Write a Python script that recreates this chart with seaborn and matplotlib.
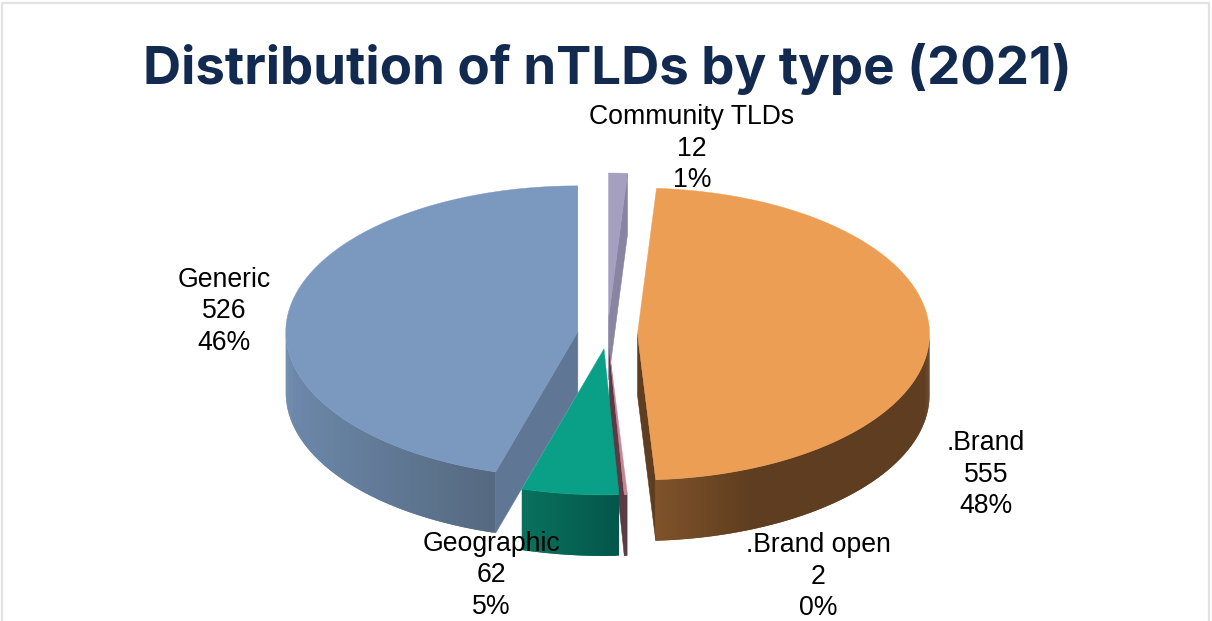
import numpy as np
import matplotlib
matplotlib.use("Agg")
import matplotlib.pyplot as plt
from matplotlib.patches import Polygon
import seaborn as sns

# Registered nTLDs per type, in clockwise order from twelve o'clock
categories = ["Community TLDs", ".Brand", ".Brand open", "Geographic", "Generic"]
counts = [12, 555, 2, 62, 526]
percent_labels = ["1%", "48%", "0%", "5%", "46%"]
title = "Distribution of nTLDs by type (2021)"

# Top surface, radial cut face, and outer wall gradient for each slice
top_colors = ["#a59fc0", "#ec9e54", "#c98493", "#0aa088", "#7b98bf"]
cut_colors = ["#8a84a3", "#5f3d20", "#5a3a44", "#087560", "#5f7695"]
wall_colors = [
    ("#8a84a3", "#8a84a3"),
    ("#7f532a", "#5f3d20"),
    ("#5a3a44", "#5a3a44"),
    ("#08725d", "#04564a"),
    ("#6c88ab", "#55697f"),
]
wall_blend = [1.0, 0.35, 1.0, 1.0, 1.0]

# Label anchors in figure pixels (x centre, y centre of the three-line block)
label_anchor = {
    "Community TLDs": (692, 148.5),
    ".Brand": (986, 474.5),
    ".Brand open": (818, 576.5),
    "Geographic": (491, 575.5),
    "Generic": (224, 311.5),
}

# Projection of the tilted pie
CX, CY = 607.5, 334.0
RX, RY = 292.0, 146.0
DEPTH = 61.0
EXPLODE = 30.0
WIDTH, HEIGHT = 1212, 621

sns.set_theme(style="white")
plt.rcParams["font.family"] = ["Liberation Sans", "DejaVu Sans"]

fig = plt.figure(figsize=(WIDTH / 100, HEIGHT / 100), dpi=100, facecolor="white")
ax = fig.add_axes([0, 0, 1, 1])
ax.set_xlim(0, WIDTH)
ax.set_ylim(HEIGHT, 0)
ax.axis("off")


def rim(theta, apex):
    """Screen position of the rim at clock angle theta (radians) for a slice apex."""
    return np.column_stack([apex[0] + RX * np.sin(theta), apex[1] - RY * np.cos(theta)])


def draw_slice(a0, a1, top, cut, wall, blend):
    mid = (a0 + a1) / 2
    apex = (CX + EXPLODE * np.sin(mid), CY - EXPLODE * RY / RX * np.cos(mid))
    drop = np.array([0.0, DEPTH])

    # Radial faces turned towards the viewer
    for angle, visible in ((a0, np.sin(a0) < -1e-6), (a1, np.sin(a1) > 1e-6)):
        if visible:
            edge = rim(np.array([angle]), apex)[0]
            face = [apex, edge, edge + drop, np.array(apex) + drop]
            ax.add_patch(Polygon(face, closed=True, facecolor=cut, edgecolor=cut, lw=0.4))

    # Outer wall as overlapping strips, shaded from the left of the slice to the right
    lo, hi = max(a0, np.pi / 2), min(a1, 3 * np.pi / 2)
    if hi > lo:
        n = max(4, int(np.degrees(hi - lo) * 2))
        edges = np.linspace(lo, hi, n + 1)
        x_rim = rim(edges, apex)[:, 0]
        span = max(np.ptp(x_rim), 1.0)
        shades = sns.blend_palette(list(wall), 201)
        for k in range(n):
            s = np.linspace(edges[k], edges[min(k + 2, n)], 4)
            band = rim(s, apex)
            frac = (band[0, 0] + band[1, 0]) / 2
            t = min((frac - x_rim.min()) / span / blend, 1.0)
            outline = np.vstack([band, band[::-1] + drop])
            ax.add_patch(Polygon(outline, closed=True, facecolor=shades[int(round(t * 200))],
                                 edgecolor="none", lw=0))

    # Top surface
    arc = rim(np.linspace(a0, a1, max(3, int(np.degrees(a1 - a0)) * 2)), apex)
    outline = np.vstack([[apex], arc])
    ax.add_patch(Polygon(outline, closed=True, facecolor=top, edgecolor=top, lw=0.3))


total = sum(counts)
stops = np.concatenate([[0.0], np.cumsum(counts) / total * 2 * np.pi])
spans = {name: (stops[i], stops[i + 1]) for i, name in enumerate(categories)}

# Painted back to front so nearer slices cover farther ones
for name in ["Community TLDs", "Generic", ".Brand", ".Brand open", "Geographic"]:
    i = categories.index(name)
    draw_slice(*spans[name], top_colors[i], cut_colors[i], wall_colors[i], wall_blend[i])

for name, value, pct in zip(categories, counts, percent_labels):
    x, y = label_anchor[name]
    ax.text(x, y, f"{name}\n{value}\n{pct}", ha="center", va="center",
            fontsize=19.2, color="#000000", linespacing=1.26, family="Liberation Sans", zorder=5)

ax.text(607.5, 84, title, ha="center", va="baseline", fontsize=38, fontweight="bold",
        color="#132a50", family="Inter", zorder=5)

# Thin slide frame along the top and both sides
ax.plot([2, 2, 1209, 1209], [HEIGHT, 2.5, 2.5, HEIGHT], color="#e2e2e2", lw=1.6, zorder=1)

fig.savefig("out.png", dpi=100, facecolor="white")
